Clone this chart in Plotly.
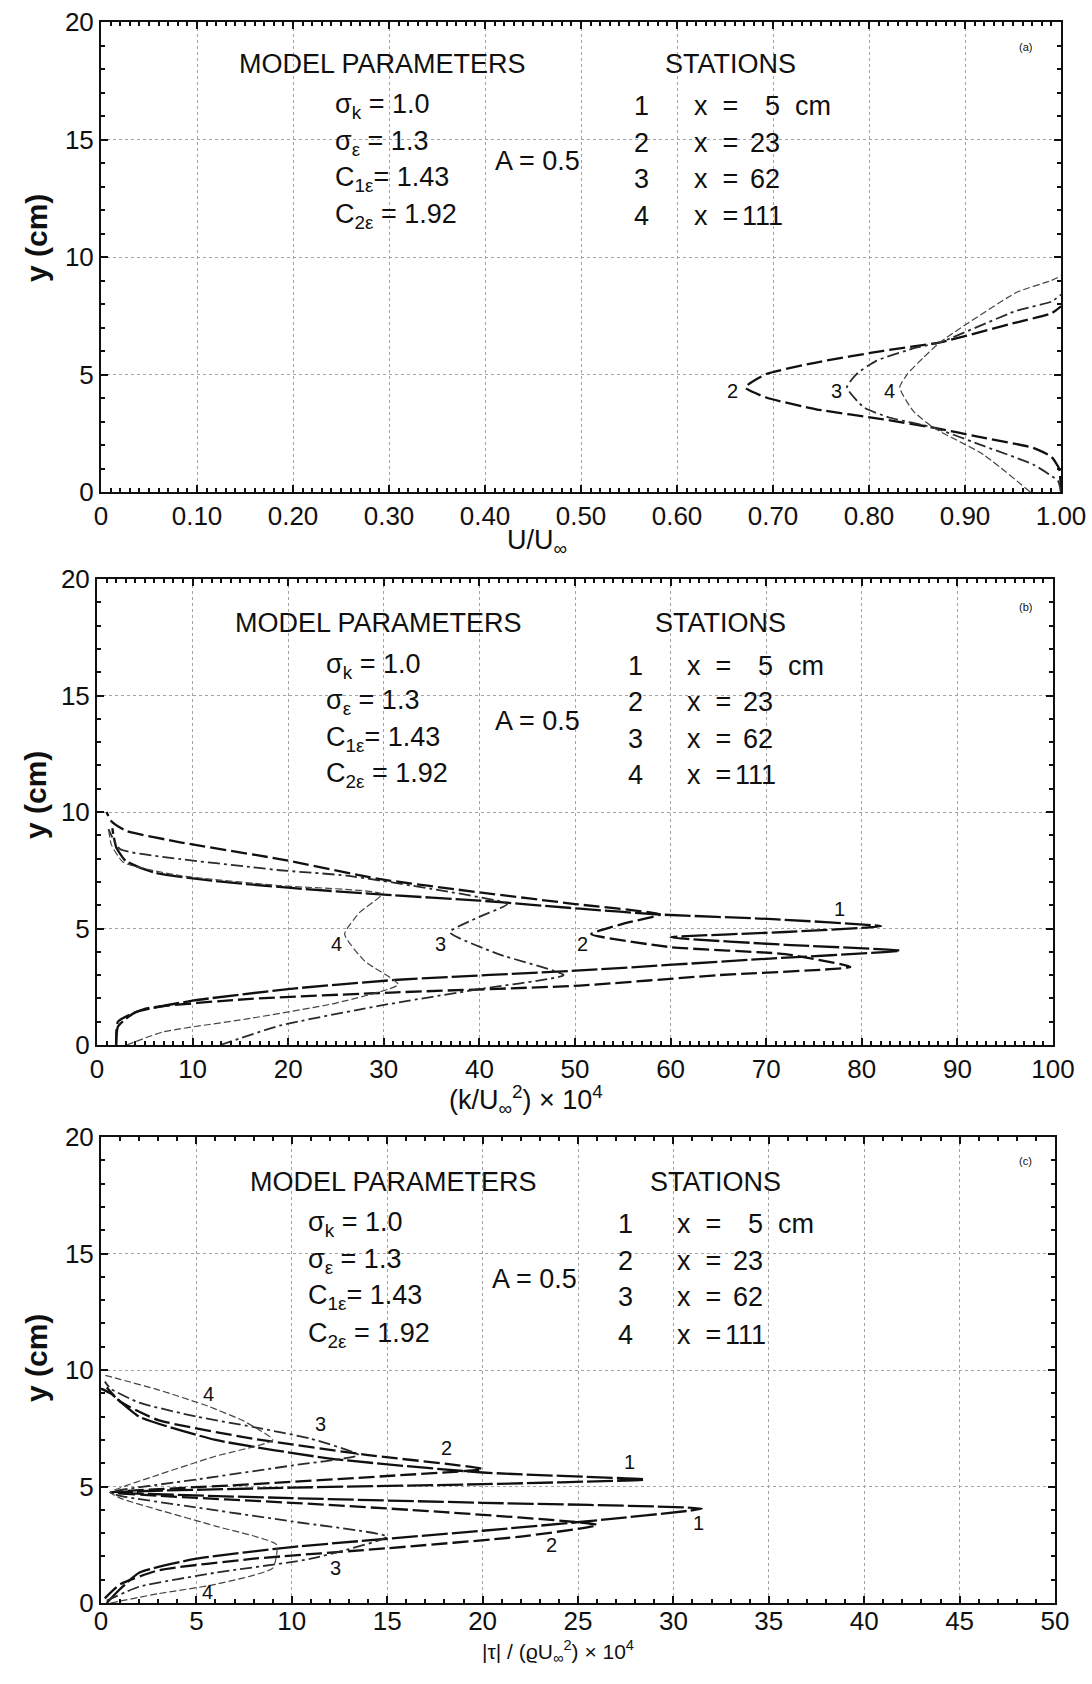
import plotly.graph_objects as go

# figure kept a little shorter than the 1684 px window so the page never scrolls
W, H = 1092, 1668
FONT = "Liberation Sans, Arial, Helvetica, sans-serif"
INK = "#101010"

# ---------------- data ----------------
stations = ["1", "2", "3", "4"]
station_x = ["5", "23", "62", "111"]

# (a) mean velocity U/U_inf against y (cm)
a_u2 = [1.0, 0.998, 0.99, 0.971, 0.92, 0.867, 0.815, 0.745, 0.693, 0.671, 0.693, 0.745, 0.815, 0.874, 0.954, 0.99, 1.0]
a_y2 = [0.0, 1.0, 1.5, 1.88, 2.3, 2.74, 3.09, 3.52, 4.02, 4.45, 5.02, 5.51, 6.01, 6.37, 7.22, 7.6, 7.9]
a_u3 = [1.0, 0.997, 0.971, 0.92, 0.867, 0.822, 0.795, 0.777, 0.787, 0.808, 0.85, 0.874, 0.954, 0.99, 1.0]
a_y3 = [0.0, 0.46, 1.17, 1.95, 2.74, 3.16, 3.59, 4.45, 5.02, 5.59, 6.15, 6.37, 7.72, 8.1, 8.4]
a_u4 = [0.968, 0.919, 0.867, 0.846, 0.832, 0.84, 0.857, 0.874, 0.954, 0.99, 1.0]
a_y4 = [0.0, 1.6, 2.74, 3.45, 4.45, 5.02, 5.73, 6.37, 8.5, 9.0, 9.2]

# (b) turbulent kinetic energy (k/U_inf^2) x 10^4 against y (cm)
b_k1 = [2.0, 2.2, 4.0, 10.0, 20.0, 31.5, 50.5, 70.0, 84.0, 72.0, 60.0, 72.0, 82.0, 70.7, 58.9, 50.5, 40.0, 30.0, 20.0, 12.0, 6.0, 3.0, 2.0, 1.6]
b_y1 = [0.0, 0.8, 1.4, 1.9, 2.4, 2.8, 3.2, 3.7, 4.05, 4.3, 4.62, 4.85, 5.1, 5.4, 5.6, 5.85, 6.2, 6.45, 6.75, 7.05, 7.4, 7.9, 8.5, 9.3]
b_k2 = [2.0, 2.2, 5.0, 15.7, 31.3, 50.5, 65.0, 78.8, 72.0, 60.0, 51.7, 55.0, 58.9, 50.0, 40.0, 29.6, 19.1, 8.7, 3.0, 1.5, 1.0]
b_y2 = [0.0, 1.0, 1.55, 1.97, 2.26, 2.55, 3.0, 3.35, 3.9, 4.2, 4.76, 5.2, 5.6, 6.05, 6.55, 7.12, 7.98, 8.7, 9.2, 9.6, 10.0]
b_k3 = [12.9, 19.1, 29.6, 40.0, 48.8, 42.0, 36.9, 40.0, 42.9, 35.0, 26.1, 19.1, 16.3, 8.7, 2.4, 1.2]
b_y3 = [0.0, 0.83, 1.69, 2.4, 3.0, 3.9, 4.84, 5.5, 6.05, 6.7, 7.27, 7.5, 7.63, 7.98, 8.41, 9.27]
b_k4 = [3.1, 6.9, 15.7, 25.0, 31.5, 28.0, 25.9, 27.5, 29.8, 19.1, 8.7, 2.75, 1.5, 1.2]
b_y4 = [0.0, 0.56, 1.12, 1.8, 2.6, 3.6, 4.76, 5.7, 6.48, 6.84, 7.27, 7.84, 8.6, 9.3]

# (c) shear stress |tau|/(rho U_inf^2) x 10^4 against y (cm)
c_t1 = [0.3, 1.0, 2.0, 5.0, 10.0, 20.0, 26.0, 31.5, 20.0, 10.0, 0.5, 10.0, 20.0, 28.5, 20.0, 12.0, 6.0, 2.0, 0.5, 0.0]
c_y1 = [0.0, 0.6, 1.3, 1.9, 2.4, 3.1, 3.55, 4.05, 4.3, 4.5, 4.75, 4.95, 5.1, 5.3, 5.6, 6.2, 7.0, 8.0, 9.0, 9.2]
c_t2 = [0.2, 1.0, 3.0, 8.0, 15.0, 22.0, 26.0, 18.0, 10.0, 3.0, 0.5, 8.0, 15.0, 20.0, 14.0, 8.0, 3.0, 1.0, 0.3]
c_y2 = [0.2, 0.8, 1.4, 1.9, 2.35, 2.85, 3.35, 3.9, 4.3, 4.6, 4.75, 5.1, 5.45, 5.75, 6.35, 7.05, 7.85, 8.65, 9.25]
c_t3 = [0.3, 2.0, 6.0, 11.0, 15.0, 10.0, 5.0, 1.0, 0.5, 5.0, 10.0, 13.5, 11.0, 8.0, 5.0, 2.0, 0.5, 0.2]
c_y3 = [0.1, 0.7, 1.3, 1.9, 2.85, 3.5, 4.1, 4.6, 4.75, 5.3, 5.9, 6.35, 7.05, 7.55, 8.0, 8.6, 9.2, 9.5]
c_t4 = [0.5, 3.0, 6.0, 9.0, 9.2, 6.0, 3.0, 1.0, 0.5, 3.0, 6.0, 9.0, 7.5, 5.6, 3.0, 1.0, 0.1]
c_y4 = [0.0, 0.4, 0.8, 1.5, 2.5, 3.3, 4.0, 4.5, 4.75, 5.5, 6.3, 7.0, 7.8, 8.45, 9.15, 9.6, 9.8]

# curve labels: (station, x, y) in data units
a_labels = [("2", 0.658, 4.3), ("3", 0.766, 4.3), ("4", 0.821, 4.3)]
b_labels = [("1", 77.7, 5.84), ("2", 50.8, 4.33), ("3", 35.9, 4.33), ("4", 25.0, 4.33)]
c_labels = [("4", 5.65, 8.95), ("3", 11.5, 7.7), ("2", 18.1, 6.67), ("1", 27.7, 6.04),
            ("1", 31.3, 3.45), ("2", 23.6, 2.5), ("3", 12.3, 1.49), ("4", 5.6, 0.47)]

a_ticks = [0, 0.1, 0.2, 0.3, 0.4, 0.5, 0.6, 0.7, 0.8, 0.9, 1.0]
a_ticktext = ["0", "0.10", "0.20", "0.30", "0.40", "0.50", "0.60", "0.70", "0.80", "0.90", "1.00"]
b_ticks = [0, 10, 20, 30, 40, 50, 60, 70, 80, 90, 100]
c_ticks = [0, 5, 10, 15, 20, 25, 30, 35, 40, 45, 50]
y_ticks = [0, 5, 10, 15, 20]

params = ["σ<sub>k</sub> = 1.0", "σ<sub>ε</sub> = 1.3", "C<sub>1ε</sub>= 1.43", "C<sub>2ε</sub> = 1.92"]

# ---------------- styling ----------------
line_style = {
    "1": dict(color=INK, width=2.3, dash="26px,4px"),
    "2": dict(color=INK, width=2.3, dash="16px,5px"),
    "3": dict(color="#2a2a2a", width=1.8, dash="12px,4px,3px,4px"),
    "4": dict(color="#444444", width=1.2, dash="7px,3px"),
}

# panel boxes in pixels: left, top, right, bottom
boxes = {
    "a": (101, 22, 1061, 492),
    "b": (97, 579, 1053, 1045),
    "c": (101, 1137, 1055, 1603),
}


def px(x):
    return x / W


def py(y):
    return 1 - y / H


def dom_x(b):
    return [px(b[0]), px(b[2])]


def dom_y(b):
    return [py(b[3]), py(b[1])]


fig = go.Figure()

panels = [
    ("x", "y", [(a_u2, a_y2, "2"), (a_u3, a_y3, "3"), (a_u4, a_y4, "4")]),
    ("x2", "y2", [(b_k1, b_y1, "1"), (b_k2, b_y2, "2"), (b_k3, b_y3, "3"), (b_k4, b_y4, "4")]),
    ("x3", "y3", [(c_t1, c_y1, "1"), (c_t2, c_y2, "2"), (c_t3, c_y3, "3"), (c_t4, c_y4, "4")]),
]

for xa, ya, curves in panels:
    for xs, ys, st in curves:
        fig.add_trace(go.Scatter(x=xs, y=ys, mode="lines", xaxis=xa, yaxis=ya,
                                 line=dict(shape="spline", smoothing=0.5, **line_style[st]),
                                 showlegend=False, hoverinfo="skip"))


def base_axis():
    return dict(showline=True, linecolor=INK, linewidth=2, mirror="allticks",
                ticks="inside", ticklen=7, tickwidth=1.5, tickcolor=INK,
                showgrid=True, gridcolor="#a3a3a3", griddash="dot", gridwidth=1,
                zeroline=False, tickfont=dict(size=26, family=FONT, color=INK),
                layer="above traces", automargin=False)


def minor(step):
    return dict(ticks="inside", ticklen=4, tickcolor=INK, tick0=0, dtick=step, showgrid=False)


xa_a = base_axis()
xa_a.update(domain=dom_x(boxes["a"]), anchor="y", range=[0, 1], tickvals=a_ticks, ticktext=a_ticktext,
            minor=minor(0.01))
xa_b = base_axis()
xa_b.update(domain=dom_x(boxes["b"]), anchor="y2", range=[0, 100], tickvals=b_ticks, minor=minor(1))
xa_c = base_axis()
xa_c.update(domain=dom_x(boxes["c"]), anchor="y3", range=[0, 50], tickvals=c_ticks, minor=minor(1),
            ticklabelstandoff=-6)


def y_axis(key, anchor):
    d = base_axis()
    d.update(domain=dom_y(boxes[key]), anchor=anchor, range=[0, 20], tickvals=y_ticks, minor=minor(1))
    return d


fig.update_layout(
    width=W, height=H, margin=dict(l=0, r=0, t=0, b=0),
    paper_bgcolor="white", plot_bgcolor="white",
    xaxis=xa_a, yaxis=y_axis("a", "x"),
    xaxis2=xa_b, yaxis2=y_axis("b", "x2"),
    xaxis3=xa_c, yaxis3=y_axis("c", "x3"),
    font=dict(family=FONT, color=INK),
)

ann = []
TXT = 27


def text(x, y, s, size=TXT, xanchor="center", yanchor="middle", **kw):
    ann.append(dict(x=px(x), y=py(y), xref="paper", yref="paper", text=s, showarrow=False,
                    xanchor=xanchor, yanchor=yanchor, font=dict(size=size, family=FONT, color=INK), **kw))


# parameter/station blocks, positions in pixels
blocks = [
    dict(top=64, mp=382, st=730, pl=333, n=641, xeq=692, val=782, ax=537, rows=[106, 143, 179, 216], tag="(a)", tagy=47),
    dict(top=623, mp=378, st=720, pl=324, n=635, xeq=685, val=775, ax=537, rows=[666, 702, 739, 775], tag="(b)", tagy=607),
    dict(top=1182, mp=393, st=715, pl=306, n=625, xeq=675, val=765, ax=534, rows=[1224, 1261, 1297, 1335], tag="(c)", tagy=1161),
]
for bl in blocks:
    text(bl["mp"], bl["top"], "MODEL PARAMETERS")
    text(bl["st"], bl["top"], "STATIONS")
    for r, s in zip(bl["rows"], params):
        text(bl["pl"], r, s, xanchor="left")
    text(bl["ax"], (bl["rows"][1] + bl["rows"][2]) / 2, "A = 0.5")
    for r, n, v in zip(bl["rows"], stations, station_x):
        text(bl["n"], r, n)
        text(bl["xeq"], r, "x&nbsp; =", xanchor="left")
        text(bl["val"] + (3 if v == "111" else 0), r, v, xanchor="right")
    text(bl["val"] + 11, bl["rows"][0], "cm", xanchor="left")
    text(1025, bl["tagy"], bl["tag"], size=11)

# axis titles
text(537, 542, "U/U<sub>∞</sub>")
text(526, 1100, "(k/U<sub>∞</sub><sup>2</sup>) × 10<sup>4</sup>")
text(558, 1668, "|τ| / (ϱU<sub>∞</sub><sup>2</sup>) × 10<sup>4</sup>", size=21, yanchor="bottom")
for yy in (238, 795, 1358):
    ann.append(dict(x=px(36), y=py(yy), xref="paper", yref="paper", text="<b>y (cm)</b>", showarrow=False,
                    xanchor="center", yanchor="middle", textangle=-90,
                    font=dict(size=30, family=FONT, color=INK)))

# curve labels
for labels, xr, yr in ((a_labels, "x", "y"), (b_labels, "x2", "y2"), (c_labels, "x3", "y3")):
    for s, x, y in labels:
        ann.append(dict(x=x, y=y, xref=xr, yref=yr, text=s, showarrow=False,
                        font=dict(size=20, family=FONT, color=INK)))

fig.update_layout(annotations=ann)
fig.write_html("out.html")
